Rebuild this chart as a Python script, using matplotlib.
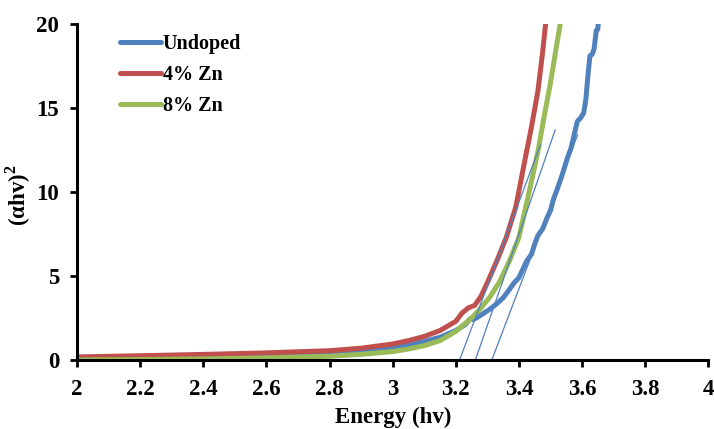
# Tauc plot: (alpha h nu)^2 against photon energy
import matplotlib.pyplot as plt

plt.rcParams['font.family'] = ['Liberation Serif', 'DejaVu Serif']
plt.rcParams['font.weight'] = 'bold'
plt.rcParams['mathtext.fontset'] = 'custom'
plt.rcParams['mathtext.rm'] = 'Liberation Serif'
plt.rcParams['mathtext.bf'] = 'Liberation Serif:bold'

# Undoped sample
undoped_x = [2.0, 2.2, 2.4, 2.6, 2.8, 2.9, 3.0, 3.05, 3.1, 3.15, 3.2, 3.23, 3.245, 3.255,
             3.27, 3.29, 3.31, 3.33, 3.35, 3.37, 3.385, 3.40, 3.41, 3.425, 3.44, 3.45,
             3.46, 3.475, 3.49, 3.50, 3.51, 3.52, 3.535, 3.545, 3.555, 3.565, 3.575,
             3.585, 3.595, 3.605, 3.612, 3.62, 3.625, 3.632, 3.638, 3.645, 3.65, 3.655]
undoped_y = [0.08, 0.13, 0.2, 0.28, 0.42, 0.55, 0.75, 0.9, 1.1, 1.35, 1.75, 2.1, 2.45, 2.4,
             2.55, 2.8, 3.05, 3.35, 3.7, 4.2, 4.6, 4.9, 5.3, 5.9, 6.3, 6.9,
             7.4, 7.8, 8.5, 8.9, 9.6, 10.1, 10.9, 11.5, 12.1, 12.6, 13.4,
             14.2, 14.4, 14.7, 15.5, 17.2, 18.1, 18.2, 18.5, 19.6, 19.7, 21]

# 4% Zn doped
zn4_x = [2.0, 2.2, 2.4, 2.6, 2.8, 2.9, 3.0, 3.05, 3.1, 3.15, 3.2, 3.22, 3.24, 3.26,
         3.28, 3.30, 3.33, 3.36, 3.39, 3.42, 3.44, 3.46, 3.475, 3.49]
zn4_y = [0.18, 0.25, 0.33, 0.42, 0.55, 0.7, 0.95, 1.15, 1.4, 1.75, 2.3, 2.8, 3.1, 3.25,
         3.8, 4.6, 5.9, 7.3, 9.1, 12.0, 13.9, 16.0, 18.3, 21]

# 8% Zn doped
zn8_x = [2.0, 2.2, 2.4, 2.6, 2.8, 2.9, 3.0, 3.05, 3.1, 3.15, 3.2, 3.25, 3.28, 3.31,
         3.34, 3.37, 3.40, 3.43, 3.46, 3.48, 3.50, 3.52, 3.54]
zn8_y = [0.0, 0.02, 0.06, 0.12, 0.22, 0.33, 0.5, 0.65, 0.85, 1.15, 1.7, 2.5, 3.1, 3.8,
         4.7, 5.9, 7.3, 9.8, 12.4, 14.5, 16.5, 18.8, 21]

# Linear extrapolations to the energy axis
tangents = [
    ([3.212, 3.468], [0, 12.8]),
    ([3.262, 3.515], [0, 13.7]),
    ([3.314, 3.586], [0, 13.4]),
]

blue = '#4F81BD'
red = '#C0504D'
green = '#9BBB59'

fig = plt.figure(figsize=(7.14, 4.29), dpi=100)
ax = fig.add_axes([0.108, 0.161, 0.884, 0.783])

ax.plot(undoped_x, undoped_y, color=blue, lw=3.6, label='Undoped', solid_capstyle='round')
ax.plot(zn4_x, zn4_y, color=red, lw=3.6, label='4% Zn', solid_capstyle='round')
ax.plot(zn8_x, zn8_y, color=green, lw=3.6, label='8% Zn', solid_capstyle='round')
for tx, ty in tangents:
    ax.plot(tx, ty, color=blue, lw=0.9)

ax.set_xlim(2, 4)
ax.set_ylim(0, 20)
ax.set_xticks([2, 2.2, 2.4, 2.6, 2.8, 3, 3.2, 3.4, 3.6, 3.8, 4])
ax.set_xticklabels(['2', '2.2', '2.4', '2.6', '2.8', '3', '3.2', '3.4', '3.6', '3.8', '4'])
ax.set_yticks([0, 5, 10, 15, 20])

for side in ['top', 'right']:
    ax.spines[side].set_visible(False)
for side in ['left', 'bottom']:
    ax.spines[side].set_linewidth(2.2)
ax.tick_params(axis='both', direction='out', length=5, width=2, labelsize=16.5)
ax.tick_params(axis='x', pad=9)
ax.tick_params(axis='y', pad=8)

ax.set_xlabel('Energy (hv)', fontsize=16.5, fontweight='bold')
ax.set_ylabel(r'(αhv)$^{\mathbf{2}}$', fontsize=16.5, fontweight='bold')
ax.yaxis.set_label_coords(-0.07, 0.49)
ax.xaxis.set_label_coords(0.5, -0.14)

ax.legend(loc='upper left', bbox_to_anchor=(0.04, 1.025), frameon=False, fontsize=14.5,
          handlelength=2.0, handletextpad=0.1, labelspacing=0.55)

fig.savefig('out.png', dpi=100)
